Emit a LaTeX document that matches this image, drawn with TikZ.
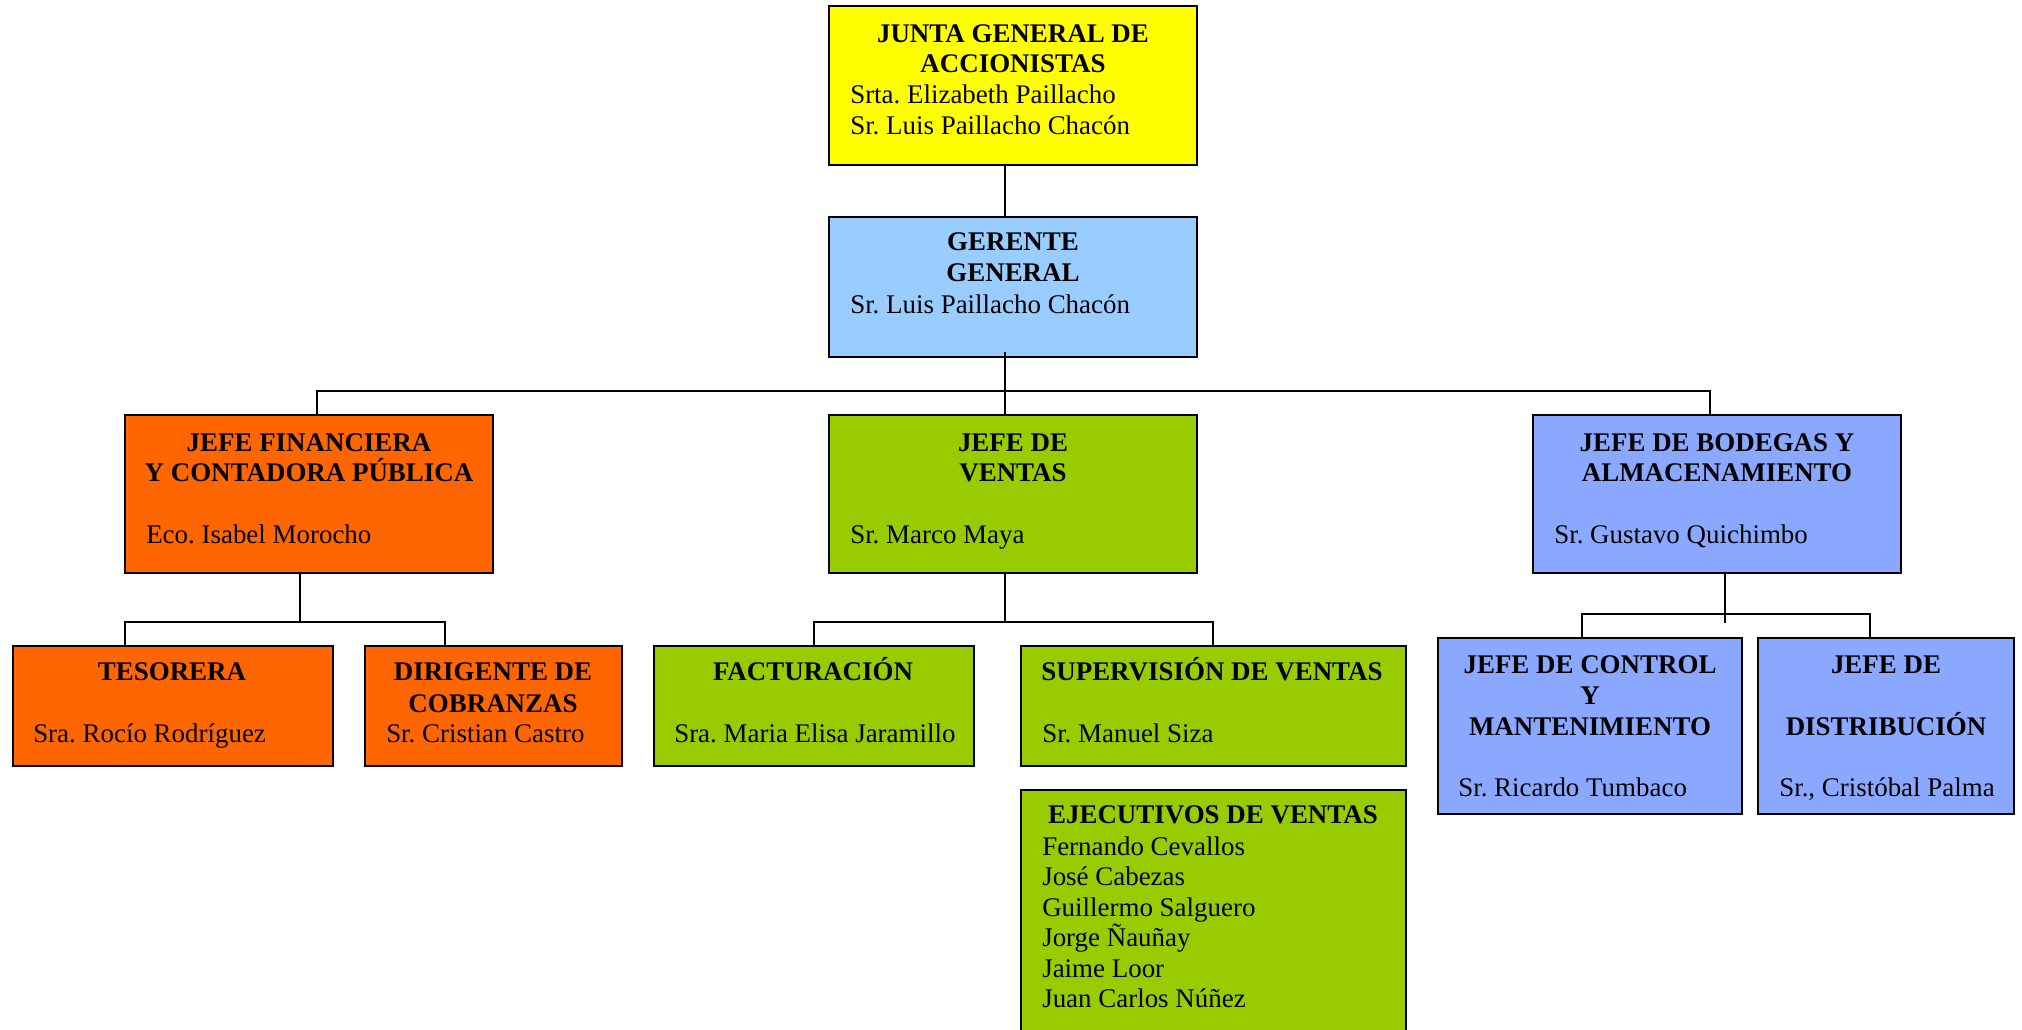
\documentclass[tikz,border=0pt]{standalone}
\usepackage{fontspec}
\setmainfont{Liberation Serif}
\usetikzlibrary{fit}
\definecolor{cjunta}{RGB}{255,255,0}
\definecolor{cgerente}{RGB}{153,204,255}
\definecolor{cfin}{RGB}{255,102,0}
\definecolor{cventas}{RGB}{153,204,0}
\definecolor{cbodega}{RGB}{138,168,255}
\frenchspacing
\begin{document}
\begin{tikzpicture}[x=0.75pt,y=-0.75pt,
  box/.style={draw=black, line width=1.1pt, inner sep=0pt, fill=#1},
  link/.style={draw=black, line width=1pt},
  txt/.style={font=\fontsize{20.2pt}{24pt}\selectfont, inner sep=0pt, anchor=base west},
  ttl/.style={font=\fontsize{20.2pt}{24pt}\selectfont\bfseries, inner sep=0pt, anchor=base}]
\useasboundingbox (0,0) rectangle (2022,1029);
\clip (0,0) rectangle (2022,1029);

% boxes
\node[box=cjunta,   fit={(829,6) (1197,165)}]   (junta) {};
\node[box=cgerente, fit={(829,217) (1197,357)}] (gerente) {};
\node[box=cfin,     fit={(125,415) (493,573)}]  (fin) {};
\node[box=cventas,  fit={(829,415) (1197,573)}] (ven) {};
\node[box=cbodega,  fit={(1533,415) (1901,573)}] (bod) {};
\node[box=cfin,     fit={(13,646) (333,766)}]   (tes) {};
\node[box=cfin,     fit={(365,646) (622,766)}]  (dir) {};
\node[box=cventas,  fit={(654,646) (974,766)}]  (fac) {};
\node[box=cventas,  fit={(1021,646) (1406,766)}] (sup) {};
\node[box=cventas,  fit={(1021,790) (1406,1040)}] (eje) {};
\node[box=cbodega,  fit={(1438,638) (1742,814)}] (ctl) {};
\node[box=cbodega,  fit={(1758,638) (2014,814)}] (dis) {};

% connector anchor points
\coordinate (gx) at (1005,391);
\coordinate (finx) at (317,391);
\coordinate (bodx) at (1710,391);
\coordinate (fs) at (300,622);
\coordinate (fa) at (125,622);
\coordinate (fb) at (445,622);
\coordinate (va) at (814,622);
\coordinate (vb) at (1213,622);
\coordinate (bs) at (1725,623);
\coordinate (ba) at (1582,614);
\coordinate (bb) at (1870,614);

% connectors
\draw[link] (junta.south -| gx) -- (gerente.north -| gx);
\draw[link] ([yshift=4pt]gerente.south -| gx) -- (gx);
\draw[link] (fin.north -| finx) -- (finx) -- (bodx) -- (bod.north -| bodx);
\draw[link] (gx) -- (ven.north -| gx);
\draw[link] (fin.south -| fs) -- (fs);
\draw[link] (tes.north -| fa) -- (fa) -- (fb) -- (dir.north -| fb);
\draw[link] (ven.south -| gx) -- (gx |- va);
\draw[link] (fac.north -| va) -- (va) -- (vb) -- (sup.north -| vb);
\draw[link] (bod.south -| bs) -- (bs);
\draw[link] (ctl.north -| ba) -- (ba) -- (bb) -- (dis.north -| bb);

% texts
\node[ttl] (juntaA) at (1013,42) {JUNTA GENERAL DE};
\node[ttl] (juntaB) at (1013,72) {ACCIONISTAS};
\node[txt] (juntaC) at (850,103) {Srta. Elizabeth Paillacho};
\node[txt] (juntaD) at (850,134) {Sr. Luis Paillacho Chacón};

\node[ttl] (gerA) at (1013,250) {GERENTE};
\node[ttl] (gerB) at (1013,281) {GENERAL};
\node[txt] (gerC) at (850,313) {Sr. Luis Paillacho Chacón};

\node[ttl] (finA) at (309,451) {JEFE FINANCIERA};
\node[ttl] (finB) at (309,481) {Y CONTADORA PÚBLICA};
\node[txt] (finC) at (146,543) {Eco. Isabel Morocho};

\node[ttl] (venA) at (1013,451) {JEFE DE};
\node[ttl] (venB) at (1013,481) {VENTAS};
\node[txt] (venC) at (850,543) {Sr. Marco Maya};

\node[ttl] (bodA) at (1717,451) {JEFE DE BODEGAS Y};
\node[ttl] (bodB) at (1717,481) {ALMACENAMIENTO};
\node[txt] (bodC) at (1554,543) {Sr. Gustavo Quichimbo};

\node[ttl] (tesA) at (172,680) {TESORERA};
\node[txt] (tesB) at (33,742) {Sra. Rocío Rodríguez};

\node[ttl] (dirA) at (493,680) {DIRIGENTE DE};
\node[ttl] (dirB) at (493,712) {COBRANZAS};
\node[txt] (dirC) at (386,742) {Sr. Cristian Castro};

\node[ttl] (facA) at (813,680) {FACTURACIÓN};
\node[txt] (facB) at (674,742) {Sra. Maria Elisa Jaramillo};

\node[ttl] (supA) at (1212,680) {SUPERVISIÓN DE VENTAS};
\node[txt] (supB) at (1042,742) {Sr. Manuel Siza};

\node[ttl] (ejeA) at (1213,823) {EJECUTIVOS DE VENTAS};
\node[txt] (ejeB) at (1042,855) {Fernando Cevallos};
\node[txt] (ejeC) at (1042,885) {José Cabezas};
\node[txt] (ejeD) at (1042,916) {Guillermo Salguero};
\node[txt] (ejeE) at (1042,946) {Jorge Ñauñay};
\node[txt] (ejeF) at (1042,977) {Jaime Loor};
\node[txt] (ejeG) at (1042,1007) {Juan Carlos Núñez};

\node[ttl] (ctlA) at (1590,673) {JEFE DE CONTROL};
\node[ttl] (ctlB) at (1590,704) {Y};
\node[ttl] (ctlC) at (1590,735) {MANTENIMIENTO};
\node[txt] (ctlD) at (1458,796) {Sr. Ricardo Tumbaco};

\node[ttl] (disA) at (1886,673) {JEFE DE};
\node[ttl] (disB) at (1886,735) {DISTRIBUCIÓN};
\node[txt] (disC) at (1779,796) {Sr., Cristóbal Palma};
\end{tikzpicture}
\end{document}
